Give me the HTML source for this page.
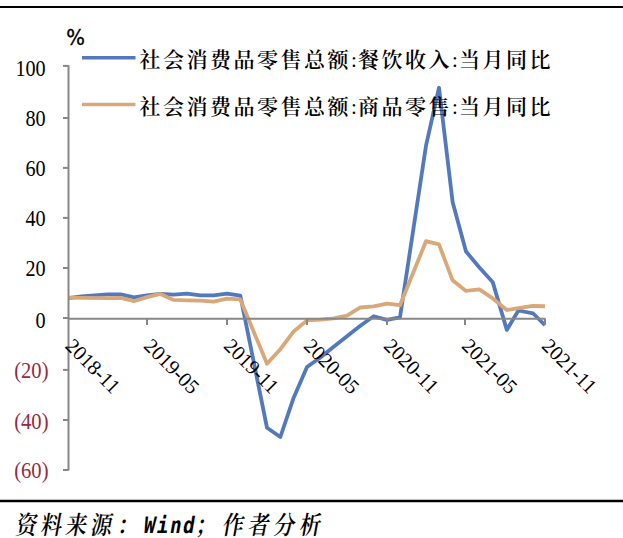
<!DOCTYPE html>
<html><head><meta charset="utf-8"><style>
html,body{margin:0;padding:0;background:#fff;}
body{width:623px;height:538px;overflow:hidden;position:relative;}
svg{position:absolute;left:0;top:0;}
text{-webkit-font-smoothing:antialiased;}
.yl{font-family:"Liberation Serif",serif;font-size:21px;fill:#000;}
.neg{fill:#962a40;}
.xl{font-family:"Liberation Serif",serif;font-size:20.5px;fill:#000;}
.pct{font-family:"DejaVu Sans",sans-serif;font-weight:400;font-size:18px;fill:#000;stroke:#000;stroke-width:0.3px;}
.lg{font-family:"Liberation Serif","Noto Serif CJK SC",serif;font-size:21px;font-weight:600;fill:#000;}
.lat{font-family:"Liberation Serif",serif;font-weight:400;}
.src{font-family:"Noto Serif CJK SC",serif;font-size:25px;font-weight:600;fill:#000;}
.mono{font-family:"DejaVu Sans Mono",monospace;font-weight:bold;font-size:22.4px;letter-spacing:1.9px;}
</style></head><body>
<svg width="623" height="538" viewBox="0 0 623 538">
<line x1="0" y1="7" x2="623" y2="7" stroke="#000" stroke-width="2.2"/>
<line x1="0" y1="501" x2="623" y2="501" stroke="#000" stroke-width="2.4"/>
<polyline points="68.50,298.18 81.58,296.42 107.75,294.41 120.83,294.41 133.92,297.43 147.00,295.41 160.33,293.90 173.67,294.66 187.00,293.65 200.33,295.41 213.67,295.41 227.00,293.65 240.33,295.67 267.00,427.75 280.33,437.00 293.67,397.71 307.00,367.06 320.33,357.52 333.67,346.68 347.00,336.36 360.33,325.78 373.67,316.29 387.00,319.85 400.00,317.29 426.00,145.69 439.00,87.78 452.60,201.90 466.00,251.47 479.40,267.50 492.80,282.34 506.80,329.91 518.40,310.50 533.00,313.27 545.00,325.27" fill="none" stroke="#5279be" stroke-width="3.8" stroke-linejoin="round" stroke-linecap="butt"/>
<polyline points="68.50,297.68 81.58,297.93 107.75,298.18 120.83,297.93 133.92,301.20 147.00,297.17 160.33,293.90 173.67,299.94 187.00,300.44 200.33,300.69 213.67,301.70 227.00,298.68 240.33,299.44 267.00,363.71 280.33,349.26 293.67,331.46 307.00,320.36 320.33,319.59 333.67,318.30 347.00,315.53 360.33,307.49 373.67,306.48 387.00,303.71 400.00,305.22 426.00,241.20 439.00,244.45 452.60,280.32 466.00,290.89 479.40,289.38 492.80,298.43 506.80,310.00 518.40,308.24 533.00,305.98 545.00,306.23" fill="none" stroke="#d9a879" stroke-width="3.8" stroke-linejoin="round" stroke-linecap="butt"/>
<line x1="68.5" y1="65.30" x2="68.5" y2="470.60" stroke="#878787" stroke-width="2"/>
<line x1="63" y1="65.90" x2="68.5" y2="65.90" stroke="#878787" stroke-width="2"/>
<line x1="63" y1="118.00" x2="68.5" y2="118.00" stroke="#878787" stroke-width="2"/>
<line x1="63" y1="167.90" x2="68.5" y2="167.90" stroke="#878787" stroke-width="2"/>
<line x1="63" y1="217.90" x2="68.5" y2="217.90" stroke="#878787" stroke-width="2"/>
<line x1="63" y1="268.00" x2="68.5" y2="268.00" stroke="#878787" stroke-width="2"/>
<line x1="63" y1="318.00" x2="68.5" y2="318.00" stroke="#878787" stroke-width="2"/>
<line x1="63" y1="369.90" x2="68.5" y2="369.90" stroke="#878787" stroke-width="2"/>
<line x1="63" y1="420.00" x2="68.5" y2="420.00" stroke="#878787" stroke-width="2"/>
<line x1="63" y1="470.00" x2="68.5" y2="470.00" stroke="#878787" stroke-width="2"/>
<line x1="68.5" y1="318.7" x2="545.5" y2="318.7" stroke="#878787" stroke-width="2"/>
<line x1="147" y1="318.7" x2="147" y2="325" stroke="#878787" stroke-width="2"/>
<line x1="227" y1="318.7" x2="227" y2="325" stroke="#878787" stroke-width="2"/>
<line x1="307" y1="318.7" x2="307" y2="325" stroke="#878787" stroke-width="2"/>
<line x1="387" y1="318.7" x2="387" y2="325" stroke="#878787" stroke-width="2"/>
<line x1="465" y1="318.7" x2="465" y2="325" stroke="#878787" stroke-width="2"/>
<line x1="545" y1="318.7" x2="545" y2="325" stroke="#878787" stroke-width="2"/>
<text class="yl" transform="translate(45.6,75.50) scale(0.96,1.05)" text-anchor="end">100</text>
<text class="yl" transform="translate(45.6,125.50) scale(0.96,1.05)" text-anchor="end">80</text>
<text class="yl" transform="translate(45.6,175.50) scale(0.96,1.05)" text-anchor="end">60</text>
<text class="yl" transform="translate(45.6,226.40) scale(0.96,1.05)" text-anchor="end">40</text>
<text class="yl" transform="translate(45.6,276.20) scale(0.96,1.05)" text-anchor="end">20</text>
<text class="yl" transform="translate(45.6,327.50) scale(0.96,1.05)" text-anchor="end">0</text>
<text class="yl neg" transform="translate(48.5,377.50) scale(0.98,1.05)" text-anchor="end">(20)</text>
<text class="yl neg" transform="translate(48.5,428.80) scale(0.98,1.05)" text-anchor="end">(40)</text>
<text class="yl neg" transform="translate(48.5,478.40) scale(0.98,1.05)" text-anchor="end">(60)</text>
<text class="xl" transform="translate(64.20,347.0) rotate(45)">2018-11</text>
<text class="xl" transform="translate(142.70,347.0) rotate(45)">2019-05</text>
<text class="xl" transform="translate(222.70,347.0) rotate(45)">2019-11</text>
<text class="xl" transform="translate(302.70,347.0) rotate(45)">2020-05</text>
<text class="xl" transform="translate(382.70,347.0) rotate(45)">2020-11</text>
<text class="xl" transform="translate(460.70,347.0) rotate(45)">2021-05</text>
<text class="xl" transform="translate(540.70,347.0) rotate(45)">2021-11</text>
<line x1="82" y1="57.8" x2="135.5" y2="57.8" stroke="#5279be" stroke-width="3.6"/>
<line x1="82" y1="104.5" x2="135.5" y2="104.5" stroke="#d9a879" stroke-width="3.6"/>
<text class="pct" transform="translate(66.2,45.3) scale(1.09,1.2)">%</text>
<text class="lg" y="67"><tspan x="139.50">社</tspan><tspan x="163.00">会</tspan><tspan x="186.50">消</tspan><tspan x="210.00">费</tspan><tspan x="233.50">品</tspan><tspan x="257.00">零</tspan><tspan x="280.50">售</tspan><tspan x="304.00">总</tspan><tspan x="327.50">额</tspan><tspan class="lat" x="351.00">:</tspan><tspan x="358.00">餐</tspan><tspan x="381.50">饮</tspan><tspan x="405.00">收</tspan><tspan x="428.50">入</tspan><tspan class="lat" x="452.00">:</tspan><tspan x="459.00">当</tspan><tspan x="482.50">月</tspan><tspan x="506.00">同</tspan><tspan x="529.50">比</tspan></text>
<text class="lg" y="113.7"><tspan x="139.50">社</tspan><tspan x="163.00">会</tspan><tspan x="186.50">消</tspan><tspan x="210.00">费</tspan><tspan x="233.50">品</tspan><tspan x="257.00">零</tspan><tspan x="280.50">售</tspan><tspan x="304.00">总</tspan><tspan x="327.50">额</tspan><tspan class="lat" x="351.00">:</tspan><tspan x="358.00">商</tspan><tspan x="381.50">品</tspan><tspan x="405.00">零</tspan><tspan x="428.50">售</tspan><tspan class="lat" x="452.00">:</tspan><tspan x="459.00">当</tspan><tspan x="482.50">月</tspan><tspan x="506.00">同</tspan><tspan x="529.50">比</tspan></text>
<text class="src" transform="translate(0,533.6) skewX(-10) scale(0.85,1.01)"><tspan x="17.41">资</tspan><tspan x="46.82">料</tspan><tspan x="76.24">来</tspan><tspan x="105.65">源</tspan><tspan x="137.06">：</tspan><tspan class="mono" x="167.76" dy="-0.9">Wind</tspan><tspan x="229.18" dy="0.9">；</tspan><tspan x="260.71">作</tspan><tspan x="290.82">者</tspan><tspan x="320.94">分</tspan><tspan x="351.06">析</tspan></text>
</svg>
</body></html>
